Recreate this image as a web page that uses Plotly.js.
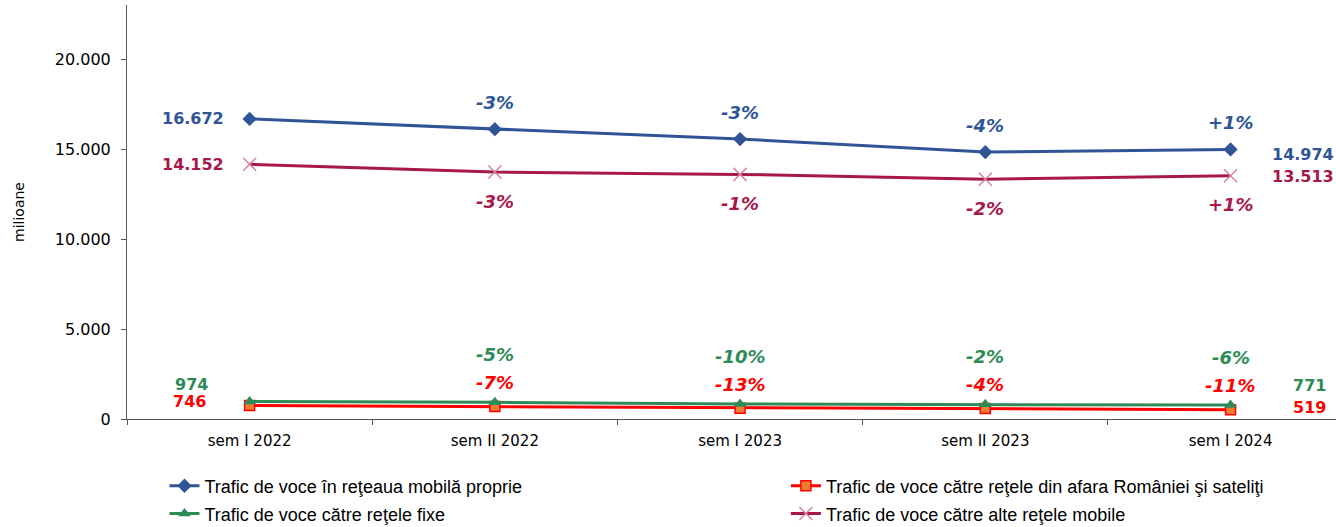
<!DOCTYPE html>
<html>
<head>
<meta charset="utf-8">
<script src="https://cdn.plot.ly/plotly-3.0.1.min.js"></script>
<style>
  html, body { margin: 0; padding: 0; background: #fff; }
  #chart { width: 1336px; height: 527px; }
</style>
</head>
<body>
<div id="chart"></div>
<script>
// Semesters on the x axis
const categories = ['sem I 2022', 'sem II 2022', 'sem I 2023', 'sem II 2023', 'sem I 2024'];

// Voice traffic, millions of minutes
const ownNetwork = [16672, 16100, 15550, 14830, 14974];
const otherMobile = [14152, 13720, 13590, 13320, 13513];
const fixedNets = [974, 925, 833, 816, 771];
const abroadSat = [746, 694, 604, 580, 519];

// Change vs previous semester
const ownNetworkChg = ['', '-3%', '-3%', '-4%', '+1%'];
const otherMobileChg = ['', '-3%', '-1%', '-2%', '+1%'];
const fixedNetsChg = ['', '-5%', '-10%', '-2%', '-6%'];
const abroadSatChg = ['', '-7%', '-13%', '-4%', '-11%'];

const names = [
  'Trafic de voce în reţeaua mobilă proprie',
  'Trafic de voce către reţele din afara României şi sateliţi',
  'Trafic de voce către reţele fixe',
  'Trafic de voce către alte reţele mobile'
];

const BLUE = '#2F5597';
const RED = '#FF0000';
const GREEN = '#2E8B57';
const CRIMSON = '#A8174C';
const FONT = 'DejaVu Sans, Verdana, sans-serif';

const fmt = v => String(v).replace(/\B(?=(\d{3})+(?!\d))/g, '.');

const traces = [
  {
    x: categories, y: ownNetwork, name: names[0], legend: 'legend',
    mode: 'lines+markers',
    line: { color: BLUE, width: 3 },
    marker: { symbol: 'diamond', size: 11, color: BLUE },
  },
  {
    x: categories, y: abroadSat, name: names[1], legend: 'legend2',
    mode: 'lines+markers',
    line: { color: RED, width: 3 },
    marker: { symbol: 'square', size: 10, color: '#ED7D31', line: { color: RED, width: 1.5 } },
  },
  {
    x: categories, y: fixedNets, name: names[2], legend: 'legend3',
    mode: 'lines+markers',
    line: { color: GREEN, width: 3 },
    marker: { symbol: 'triangle-up', size: 11, color: GREEN },
  },
  {
    x: categories, y: otherMobile, name: names[3], legend: 'legend4',
    mode: 'lines+markers',
    line: { color: CRIMSON, width: 3 },
    marker: { symbol: 'x-thin', size: 13, color: '#D9849E', line: { color: '#D9849E', width: 1.5 } },
  },
].map(t => ({ ...t, type: 'scatter', cliponaxis: false }));

const annotations = [];

// Percent change labels
function addChanges(values, changes, color, yshift) {
  changes.forEach((c, i) => {
    if (!c) return;
    annotations.push({
      x: categories[i], y: values[i], xref: 'x', yref: 'y',
      text: '<b><i>' + c + '</i></b>', showarrow: false,
      yshift, font: { family: FONT, size: 18, color },
    });
  });
}
addChanges(ownNetwork, ownNetworkChg, BLUE, 27);
addChanges(otherMobile, otherMobileChg, CRIMSON, -29);
addChanges(fixedNets, fixedNetsChg, GREEN, 48);
addChanges(abroadSat, abroadSatChg, RED, 24);

// First / last value labels
function addEnds(values, color, leftShift, rightShift, yL, yR) {
  const last = values.length - 1;
  annotations.push({
    x: categories[0], y: values[0], xref: 'x', yref: 'y',
    text: '<b>' + fmt(values[0]) + '</b>', showarrow: false,
    xanchor: 'right', xshift: leftShift, yshift: yL,
    font: { family: FONT, size: 16, color },
  });
  annotations.push({
    x: categories[last], y: values[last], xref: 'x', yref: 'y',
    text: '<b>' + fmt(values[last]) + '</b>', showarrow: false,
    xanchor: 'left', xshift: rightShift, yshift: yR,
    font: { family: FONT, size: 16, color },
  });
}
addEnds(ownNetwork, BLUE, -24, 39, 0, -5);
addEnds(otherMobile, CRIMSON, -24, 39, 0, -1);
addEnds(fixedNets, GREEN, -40, 60, 17, 20);
addEnds(abroadSat, RED, -42, 60, 4, 2);

const legendBase = {
  orientation: 'v', xanchor: 'left', yanchor: 'middle',
  bgcolor: 'rgba(0,0,0,0)',
  font: { family: 'Liberation Sans, Arial, sans-serif', size: 18, color: '#000' },
};

const layout = {
  width: 1336, height: 527,
  margin: { l: 127, r: 0, t: 5, b: 108, autoexpand: false },
  paper_bgcolor: '#fff', plot_bgcolor: '#fff',
  separators: ',.',
  font: { family: FONT, color: '#000' },
  xaxis: {
    type: 'category',
    range: [-0.5, 4.43],
    tickson: 'boundaries',
    ticks: 'outside', ticklen: 5, tickcolor: '#595959',
    ticklabelstandoff: 8,
    showline: true, linecolor: '#595959', linewidth: 1,
    showgrid: false, zeroline: false,
    tickfont: { family: FONT, size: 15, color: '#000' },
  },
  yaxis: {
    range: [0, 23000],
    tickvals: [0, 5000, 10000, 15000, 20000],
    tickformat: ',d',
    ticks: 'outside', ticklen: 5, tickcolor: '#595959',
    ticklabelstandoff: 7,
    showline: true, linecolor: '#595959', linewidth: 1,
    showgrid: false, zeroline: false,
    tickfont: { family: FONT, size: 16, color: '#000' },
    title: { text: 'milioane', font: { family: FONT, size: 14, color: '#000' }, standoff: 26 },
  },
  showlegend: true,
  legend: { ...legendBase, x: 0.031, y: -0.162 },
  legend2: { ...legendBase, x: 0.545, y: -0.162 },
  legend3: { ...legendBase, x: 0.031, y: -0.229 },
  legend4: { ...legendBase, x: 0.545, y: -0.229 },
  annotations,
};

Plotly.newPlot('chart', traces, layout, { displayModeBar: false, staticPlot: true });
</script>
</body>
</html>
